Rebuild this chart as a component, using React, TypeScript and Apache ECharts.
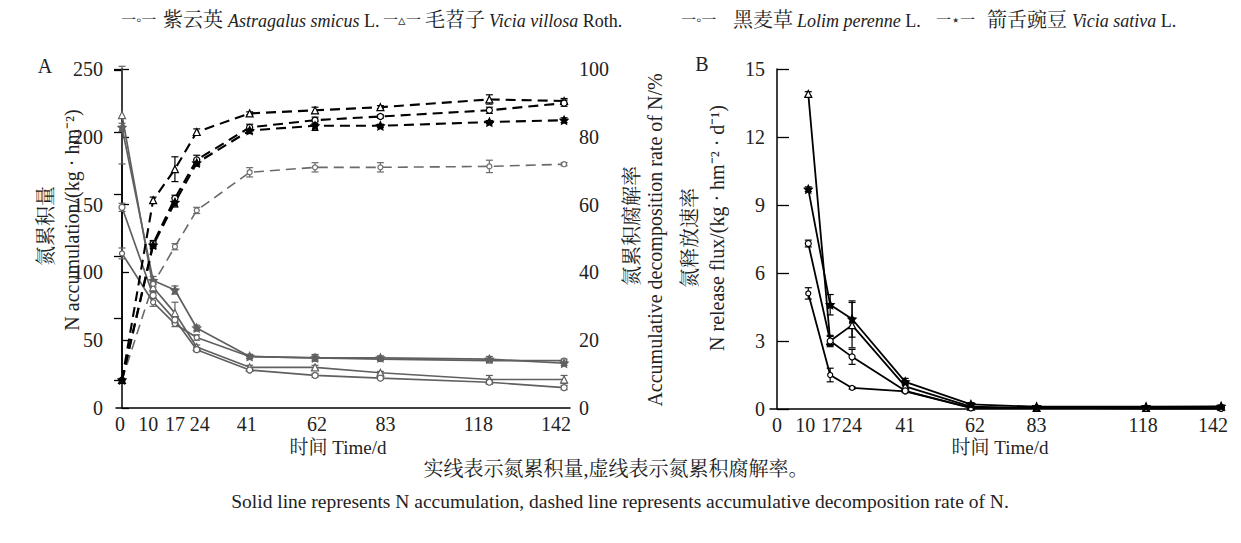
import React, { useEffect, useRef } from "react";
import * as echarts from "echarts";

// ---------- data ----------
const days = [0, 10, 17, 24, 41, 62, 83, 118, 142];
const fluxDays = [10, 17, 24, 41, 62, 83, 118, 142];
const dayTicks = [0, 10, 17, 24, 41, 62, 83, 118, 142];

const speciesCn = ["紫云英", "毛苕子", "黑麦草", "箭舌豌豆"];
const speciesLatin = ["Astragalus smicus", "Vicia villosa", "Lolim perenne", "Vicia sativa"];
const speciesAuthor = ["L.", "Roth.", "L.", "L."];
const legendMarks = ["◦", "▵", "◦", "⋆"];

// N accumulation (kg/hm2)
const accZiyunying = [114, 78, 62, 52, 38, 37, 36, 35, 35];
const accMaotiaozi = [216, 89, 70, 45, 30, 30, 26, 21, 21];
const accHeimaicao = [148, 83, 65, 43, 28, 24, 22, 19, 15];
const accJianshe = [207, 94, 87, 59, 38, 37, 37, 36, 33];
const accErrZiyunying = [4, 3, 2, 2, 1.5, 1.5, 1, 1.5, 1];
const accErrMaotiaozi = [36, 3, 8, 1.5, 1.5, 1.5, 1, 3, 3];
const accErrHeimaicao = [3, 2, 2, 1.5, 1, 1.5, 1, 1.5, 1.5];
const accErrJianshe = [3, 3, 3, 2, 1.5, 2.5, 1.5, 2, 1.5];

// accumulative decomposition rate (%)
const rateZiyunying = [0, 31, 43, 54.7, 67, 68.6, 68.6, 68.9, 69.6];
const rateMaotiaozi = [0, 58, 68, 80, 86, 87, 88, 90.5, 90];
const rateHeimaicao = [0, 44, 58.6, 71, 81.5, 83.8, 85, 87, 89.3];
const rateJianshe = [0, 43.5, 57.3, 70, 80.5, 82, 82, 83.2, 83.8];
const rateErrZiyunying = [0, 1, 1, 1, 1.5, 1.5, 1.5, 2, 0.5];
const rateErrMaotiaozi = [0, 1, 4, 1, 0.5, 1, 0.5, 1.5, 0.8];
const rateErrHeimaicao = [0, 1, 1, 1.5, 1, 1, 0.5, 1, 1];
const rateErrJianshe = [0, 1, 1.5, 1, 1, 1.5, 0.5, 0.5, 0.8];

// N release flux (kg/hm2/d)
const fluxZiyunying = [5.1, 1.5, 0.93, 0.78, 0.05, 0.05, 0.03, 0.03];
const fluxMaotiaozi = [13.9, 3.0, 3.7, 1.0, 0.1, 0.05, 0.05, 0.1];
const fluxHeimaicao = [7.3, 3.0, 2.3, 0.8, 0.05, 0.05, 0.03, 0.03];
const fluxJianshe = [9.7, 4.6, 3.97, 1.2, 0.2, 0.1, 0.1, 0.12];
const fluxErrZiyunying = [0.25, 0.3, 0.05, 0.05, 0.03, 0.03, 0.03, 0.03];
const fluxErrMaotiaozi = [0.1, 0.2, 1.0, 0.1, 0.05, 0.03, 0.03, 0.03];
const fluxErrHeimaicao = [0.15, 0.25, 0.33, 0.08, 0.03, 0.03, 0.03, 0.03];
const fluxErrJianshe = [0.1, 0.45, 0.8, 0.15, 0.08, 0.05, 0.05, 0.05];

// ---------- styling ----------
const SERIF = '"Liberation Serif", "Times New Roman", "Noto Serif CJK SC", "Noto Sans CJK SC", serif';
const STAR =
  "path://M0,-10 L2.9,-4 L9.5,-3.1 L4.8,1.5 L5.9,8.1 L0,5 L-5.9,8.1 L-4.8,1.5 L-9.5,-3.1 L-2.9,-4 Z";
const symbols = ["circle", "triangle", "circle", STAR];
const symbolSizes = [5, 7, 6, 8];
const GREY = "#606060";

// label nudges (px) to follow the reference's label placement
const labelShiftA: Record<number, number> = { 0: -2, 10: -5, 17: 0, 24: 3, 41: -3, 62: 2, 83: 5, 118: -11, 142: -8 };
const labelShiftB: Record<number, number> = { 0: 0, 10: -3, 17: 1, 24: 0, 41: 0, 62: 4, 83: 0, 118: -3, 142: -8 };

function shiftedLabel(shift: Record<number, number>) {
  const rich: any = {};
  const keys: Record<number, string> = {};
  Object.keys(shift).forEach((k, i) => {
    const s = shift[+k];
    const name = "s" + i;
    keys[+k] = name;
    rich[name] = { padding: s < 0 ? [0, -2 * s, 0, 0] : [0, 0, 0, 2 * s] };
  });
  return {
    formatter: (v: number) => (keys[v] !== undefined ? `{${keys[v]}|${v}}` : String(v)),
    rich,
  };
}

function errSeries(xs: number[], ys: number[], errs: number[], xi: number, yi: number, color: string, w = 1.2) {
  const data = xs
    .map((x, i) => [x, ys[i] - errs[i], ys[i] + errs[i], errs[i]])
    .filter((d) => d[3] > 0);
  return {
    type: "custom",
    xAxisIndex: xi,
    yAxisIndex: yi,
    silent: true,
    z: 2,
    data,
    encode: { x: 0, y: [1, 2] },
    renderItem: (_p: any, api: any) => {
      const x = api.value(0);
      const lo = api.coord([x, api.value(1)]);
      const hi = api.coord([x, api.value(2)]);
      const c = 3.5;
      const style = { stroke: color, lineWidth: w, fill: "none" };
      return {
        type: "group",
        children: [
          { type: "line", shape: { x1: hi[0], y1: hi[1], x2: lo[0], y2: lo[1] }, style },
          { type: "line", shape: { x1: hi[0] - c, y1: hi[1], x2: hi[0] + c, y2: hi[1] }, style },
          { type: "line", shape: { x1: lo[0] - c, y1: lo[1], x2: lo[0] + c, y2: lo[1] }, style },
        ],
      };
    },
  };
}

function lineSeries(
  name: string,
  xs: number[],
  ys: number[],
  xi: number,
  yi: number,
  k: number,
  color: string,
  width: number,
  dashed: boolean
) {
  const filled = k === 3;
  return {
    type: "line",
    name,
    xAxisIndex: xi,
    yAxisIndex: yi,
    data: xs.map((x, i) => [x, ys[i]]),
    symbol: symbols[k],
    symbolSize: symbolSizes[k],
    showSymbol: true,
    lineStyle: { color, width, type: dashed ? [10, 6] : "solid" },
    itemStyle: { color: filled ? color : "#fff", borderColor: color, borderWidth: 1.2 },
    z: 3,
  };
}

export default function App() {
  const ref = useRef<HTMLDivElement>(null);
  useEffect(() => {
    if (!ref.current) return;
    const chart = echarts.init(ref.current, undefined, { renderer: "svg" });

    const accs = [accZiyunying, accMaotiaozi, accHeimaicao, accJianshe];
    const accErrs = [accErrZiyunying, accErrMaotiaozi, accErrHeimaicao, accErrJianshe];
    const rates = [rateZiyunying, rateMaotiaozi, rateHeimaicao, rateJianshe];
    const rateErrs = [rateErrZiyunying, rateErrMaotiaozi, rateErrHeimaicao, rateErrJianshe];
    const fluxes = [fluxZiyunying, fluxMaotiaozi, fluxHeimaicao, fluxJianshe];
    const fluxErrs = [fluxErrZiyunying, fluxErrMaotiaozi, fluxErrHeimaicao, fluxErrJianshe];

    const series: any[] = [];
    accs.forEach((a, k) => {
      series.push(errSeries(days, a, accErrs[k], 0, 0, GREY));
      series.push(lineSeries(speciesCn[k] + "-acc", days, a, 0, 0, k, GREY, 1.7, false));
    });
    rates.forEach((r, k) => {
      const col = k === 0 ? "#6a6a6a" : "#000";
      series.push(errSeries(days, r, rateErrs[k], 1, 2, col));
      series.push(lineSeries(speciesCn[k] + "-rate", days, r, 1, 2, k, col, k === 0 ? 1.6 : 2.1, true));
    });
    fluxes.forEach((f, k) => {
      series.push(errSeries(fluxDays, f, fluxErrs[k], 2, 3, "#000"));
      series.push(lineSeries(speciesCn[k] + "-flux", fluxDays, f, 2, 3, k, "#000", 1.8, false));
    });

    const axisFont = { fontFamily: SERIF, fontSize: 20, color: "#222" };
    const axLine = { show: true, lineStyle: { color: "#000", width: 1.5 } };

    const xAxisCommon = {
      type: "value",
      splitLine: { show: false },
      axisTick: { show: false },
      axisLine: { ...axLine, onZero: false },
    };

    const legendMarkX = [121, 383, 681, 936];
    const legendCnX = [163, 425, 733, 987];
    const legendLatinX = [228, 489, 797, 1072];
    const legendItems: any[] = [];
    legendMarkX.forEach((mx, k) => {
      legendItems.push({
        type: "text",
        x: mx,
        y: 20,
        style: {
          text: `一${legendMarks[k]}一`,
          verticalAlign: "middle",
          align: "left",
          fill: "#333",
          fontFamily: SERIF,
          fontSize: 15,
        },
      });
      legendItems.push({
        type: "text",
        x: legendCnX[k],
        y: 20,
        style: {
          text: speciesCn[k],
          verticalAlign: "middle",
          align: "left",
          fill: "#222",
          fontFamily: SERIF,
          fontSize: 20,
        },
      });
      legendItems.push({
        type: "text",
        x: legendLatinX[k],
        y: 21,
        style: {
          text: `{i|${speciesLatin[k]}}{c| ${speciesAuthor[k]}}`,
          verticalAlign: "middle",
          align: "left",
          fill: "#222",
          fontFamily: SERIF,
          fontSize: 18,
          rich: {
            c: { fontFamily: SERIF, fontSize: 18, fill: "#222" },
            i: { fontFamily: SERIF, fontSize: 18, fontStyle: "italic", fill: "#222" },
          },
        },
      });
    });

    const txt = (text: string, x: number, y: number, size: number, rot = 0) => ({
      type: "text",
      x,
      y,
      rotation: rot,
      style: {
        text,
        align: "center",
        verticalAlign: "middle",
        fill: "#222",
        fontFamily: SERIF,
        fontSize: size,
      },
    });

    const option: any = {
      animation: false,
      backgroundColor: "#fff",
      grid: [
        { left: 116, top: 69, width: 454, height: 339 },
        { left: 116, top: 69, width: 454, height: 311 },
        { left: 770, top: 69, width: 453, height: 340 },
      ],
      xAxis: [
        {
          ...xAxisCommon,
          gridIndex: 0,
          min: -1.93,
          max: 143.9,
          axisLabel: { ...axisFont, margin: 6, customValues: dayTicks, ...shiftedLabel(labelShiftA) },
        },
        {
          ...xAxisCommon,
          gridIndex: 1,
          min: -1.93,
          max: 143.9,
          show: false,
        },
        {
          ...xAxisCommon,
          gridIndex: 2,
          min: -2.24,
          max: 142.6,
          axisLabel: { ...axisFont, margin: 6, customValues: dayTicks, ...shiftedLabel(labelShiftB) },
        },
      ],
      yAxis: [
        {
          type: "value",
          gridIndex: 0,
          position: "left",
          min: 0,
          max: 250,
          interval: 50,
          splitLine: { show: false },
          axisLine: axLine,
          axisTick: { show: true, inside: true, length: 7, lineStyle: { color: "#000", width: 1.3 } },
          axisLabel: { ...axisFont, margin: 13 },
        },
        {
          type: "value",
          gridIndex: 0,
          position: "right",
          min: 0,
          max: 250,
          interval: 50,
          splitLine: { show: false },
          axisLine: { show: false },
          axisTick: { show: false },
          axisLabel: { ...axisFont, margin: 9, formatter: (v: number) => String(Math.round(v * 0.4)) },
        },
        {
          type: "value",
          gridIndex: 1,
          position: "right",
          min: 0,
          max: 100.32,
          interval: 20,
          splitLine: { show: false },
          axisLine: axLine,
          axisTick: { show: true, inside: true, length: 8, lineStyle: { color: "#000", width: 1.3 } },
          axisLabel: { show: false },
        },
        {
          type: "value",
          gridIndex: 2,
          position: "left",
          min: 0,
          max: 15,
          interval: 3,
          splitLine: { show: false },
          axisLine: axLine,
          axisTick: { show: true, inside: true, length: 12, lineStyle: { color: "#000", width: 1.3 } },
          axisLabel: { ...axisFont, margin: 5 },
        },
      ],
      series,
      graphic: [
        ...legendItems,
        txt("A", 45, 66, 20),
        txt("B", 702, 64, 20),
        txt("氮累积量", 46, 226, 20, Math.PI / 2),
        txt("N accumulation/(kg · hm⁻²)", 72, 220, 20, Math.PI / 2),
        txt("氮累积腐解率", 632, 226, 20, Math.PI / 2),
        txt("Accumulative decomposition rate of N/%", 655, 240, 20, Math.PI / 2),
        txt("氮释放速率", 690, 238, 20, Math.PI / 2),
        txt("N release flux/(kg · hm⁻² · d⁻¹)", 717, 228, 20, Math.PI / 2),
        txt("时间 Time/d", 338, 447, 19),
        txt("时间 Time/d", 1000, 447, 19),
        txt("实线表示氮累积量,虚线表示氮累积腐解率。", 616, 469, 20),
        txt(
          "Solid line represents N accumulation, dashed line represents accumulative decomposition rate of N.",
          620,
          501,
          19.5
        ),
      ],
    };

    chart.setOption(option);
    return () => chart.dispose();
  }, []);

  return (
    <div
      ref={ref}
      style={{ position: "fixed", left: 0, top: 0, width: 1241, height: 543, background: "#fff" }}
    />
  );
}
